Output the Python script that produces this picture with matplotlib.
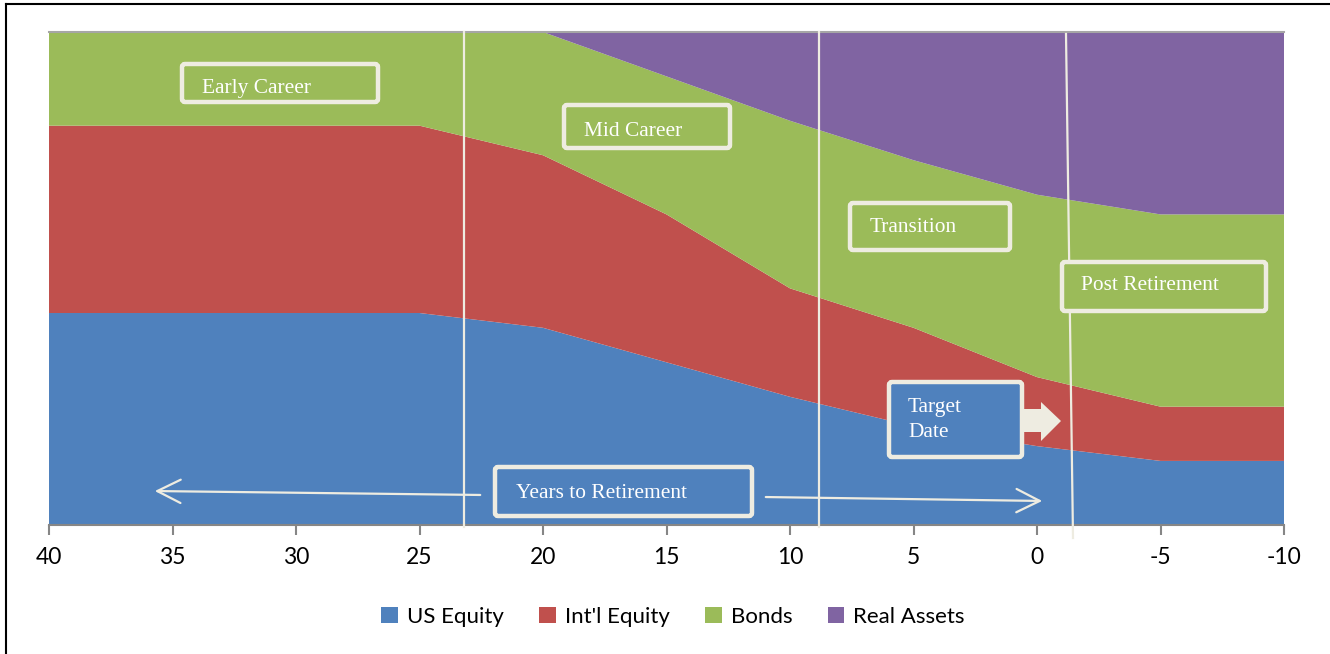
import matplotlib
matplotlib.use("Agg")
import matplotlib.pyplot as plt
from matplotlib.patches import FancyBboxPatch, Polygon, FancyArrowPatch, Patch
from matplotlib.lines import Line2D
from matplotlib.transforms import IdentityTransform

# ---- data ----
years = [40, 35, 30, 25, 20, 15, 10, 5, 0, -5, -10]
us_equity = [43, 43, 43, 43, 40, 33, 26, 20, 16, 13, 13]
intl_equity = [38, 38, 38, 38, 35, 30, 22, 20, 14, 11, 11]
bonds = [19, 19, 19, 19, 25, 28, 34, 34, 37, 39, 39]
real_assets = [0, 0, 0, 0, 0, 9, 18, 26, 33, 37, 37]
series_names = ["US Equity", "Int'l Equity", "Bonds", "Real Assets"]
colors = ["#4F81BD", "#C0504D", "#9BBB59", "#8064A2"]
xticks = [40, 35, 30, 25, 20, 15, 10, 5, 0, -5, -10]
xticklabels = ["40", "35", "30", "25", "20", "15", "10", "5", "0", "-5", "-10"]

W, H = 1330, 654
CREAM = "#EEECE1"

fig = plt.figure(figsize=(W / 100, H / 100), dpi=100)
ax = fig.add_axes([49 / W, 1 - 525 / H, (1284 - 49) / W, (525 - 32) / H])
ax.stackplot(years, us_equity, intl_equity, bonds, real_assets,
             colors=colors, linewidth=0)
ax.set_xlim(40, -10)
ax.set_ylim(0, 100)
ax.set_yticks([])
ax.set_xticks(xticks)
ax.set_xticklabels(xticklabels, fontsize=16.5, family=["Lato", "DejaVu Sans"])
ax.tick_params(axis="x", length=7, width=1.5, color="#868686", pad=9)
for s in ["left", "right"]:
    ax.spines[s].set_visible(False)
ax.spines["bottom"].set_color("#868686")
ax.spines["bottom"].set_linewidth(1.5)
ax.spines["top"].set_color("#A6A6A6")
ax.spines["top"].set_linewidth(1.5)

ID = IdentityTransform()


def P(x, y):
    return (x, H - y)


# vertical divider lines
for (x0, y0, x1, y1) in [(464, 32, 464, 527), (819, 32, 819, 527), (1066, 34, 1073, 538)]:
    a, b = P(x0, y0), P(x1, y1)
    fig.add_artist(Line2D([a[0], b[0]], [a[1], b[1]], transform=ID,
                          color=CREAM, lw=1.6, zorder=5))


def box(x0, y0, x1, y1, text, fill, tx=None, ty=None, fs=15.4):
    a = P(x0, y1)
    bx = FancyBboxPatch(a, x1 - x0, y1 - y0, boxstyle="round,pad=0,rounding_size=3",
                        transform=ID, facecolor=fill, edgecolor=CREAM, lw=3.2, zorder=6)
    fig.add_artist(bx)
    if tx is None:
        tx = x0 + 20
    if ty is None:
        ty = (y0 + y1) / 2
    fig.text(*P(tx, ty), text, transform=ID, color="white", fontsize=fs,
             family=["Liberation Serif"], va="center", ha="left", zorder=7,
             linespacing=1.4)


box(182, 64, 378, 102, "Early Career", colors[2], tx=202, ty=88)
box(564, 105, 730, 148, "Mid Career", colors[2], tx=584, ty=131)
box(850, 203, 1010, 250, "Transition", colors[2], tx=870, ty=228)
box(1062, 262, 1266, 311, "Post Retirement", colors[2], tx=1081, ty=286)
box(889, 382, 1022, 457, "Target\nDate", colors[0], tx=908, ty=420)
box(495, 467, 752, 516, "Years to Retirement", colors[0], tx=516, ty=493)

# block arrow next to Target Date
arrow_pts = [(1023, 409), (1041, 409), (1041, 402), (1061, 421), (1041, 441), (1041, 432), (1023, 432)]
fig.add_artist(Polygon([P(*p) for p in arrow_pts], closed=True, transform=ID,
                       facecolor=CREAM, edgecolor="none", zorder=6))

# thin arrows
for (x0, y0, x1, y1) in [(483, 495, 152, 491), (763, 497, 1045, 501)]:
    fig.add_artist(FancyArrowPatch(P(x0, y0), P(x1, y1), transform=ID,
                                   arrowstyle="->,head_length=1.2,head_width=0.6",
                                   mutation_scale=14, color=CREAM, lw=1.6, zorder=6))

# legend
handles = [Patch(facecolor=c, edgecolor="none") for c in colors]
fig.legend(handles, series_names, loc="center", bbox_to_anchor=(0.506, 1 - 617 / H),
           ncol=4, frameon=False, handlelength=0.75, handleheight=0.75,
           handletextpad=0.4, columnspacing=1.6,
           prop={"family": ["Lato", "DejaVu Sans"], "size": 16})

# figure border (left and top)
fig.add_artist(Line2D([6, 6], [0, H - 4], transform=ID, color="black", lw=1.5))
fig.add_artist(Line2D([6, W], [H - 4, H - 4], transform=ID, color="black", lw=1.5))

fig.savefig("out.png", dpi=100)
